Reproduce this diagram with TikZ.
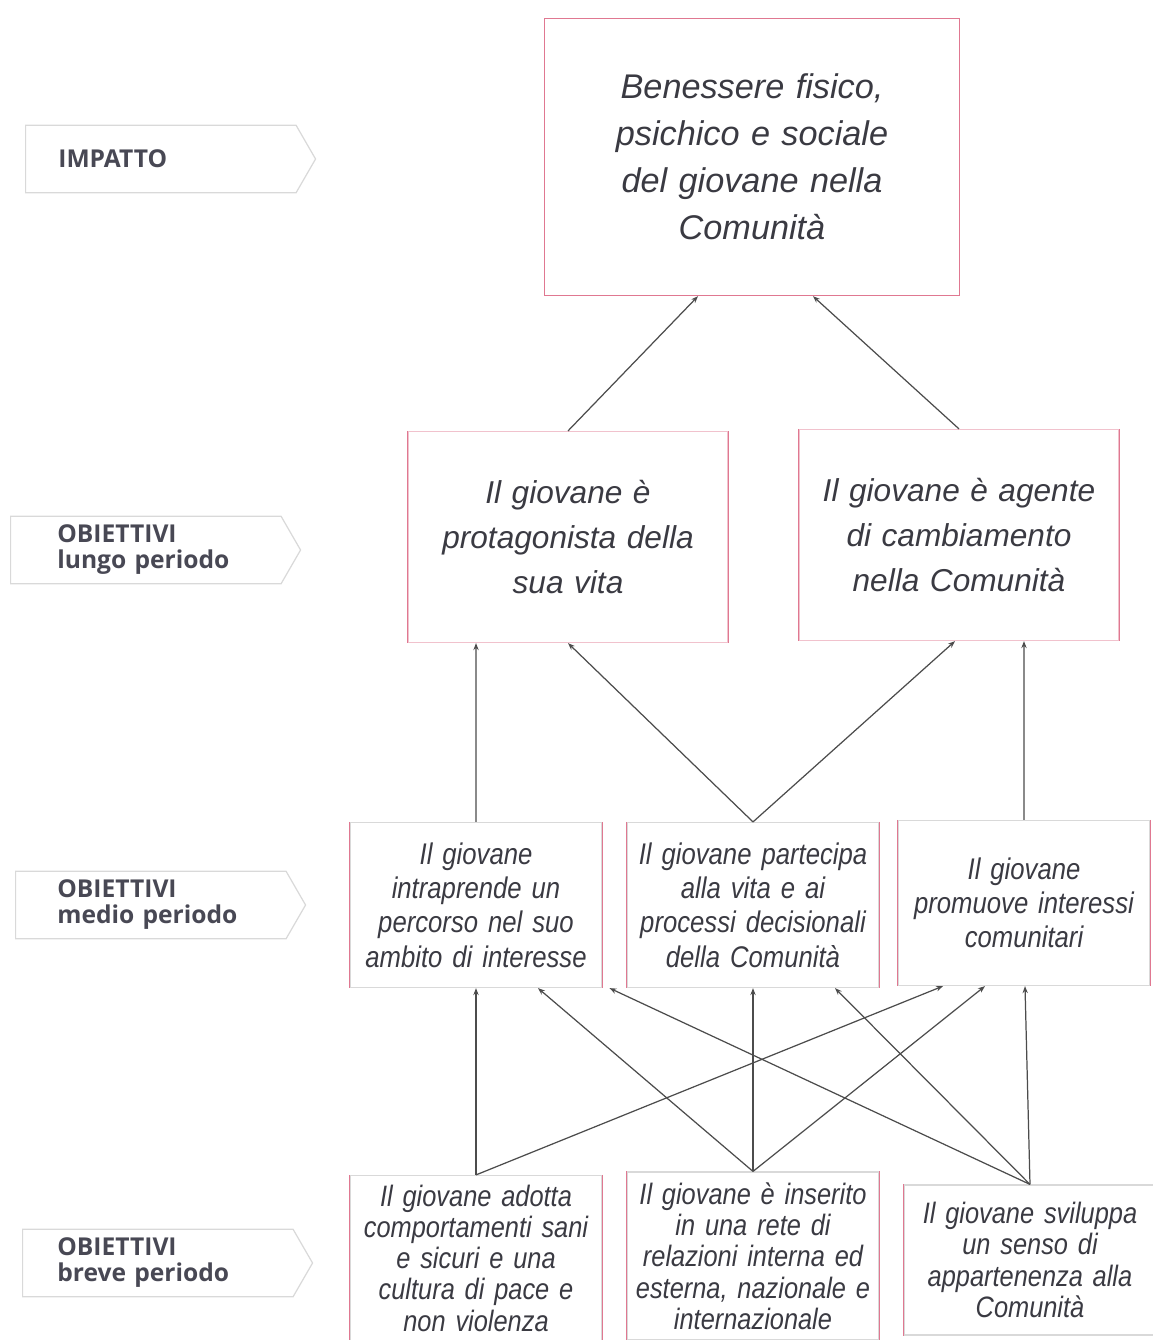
\documentclass[tikz,border=0pt]{standalone}
\usepackage{fontspec}
\setmainfont{Liberation Sans}
\newfontfamily\narrowfont[FakeStretch=0.86]{Liberation Sans}
\newfontfamily\labelfont{Open Sans}
\usetikzlibrary{arrows.meta,shapes.symbols}
\definecolor{boxred}{RGB}{224,120,145}
\definecolor{testo}{RGB}{58,58,66}
\definecolor{etich}{RGB}{72,72,84}
\begin{document}
\begin{tikzpicture}[x=0.02cm, y=-0.02cm,
        impatto/.style={draw=boxred, line width=0.8pt, minimum width=8.3cm, minimum height=5.54cm,
            text width=7cm, align=center, text=testo, font=\fontsize{19.5}{26.7}\selectfont\itshape},
        latirossi/.style={append after command={
            (\tikzlastnode.north west) edge[draw=boxred, line width=0.8pt] (\tikzlastnode.south west)
            (\tikzlastnode.north east) edge[draw=boxred, line width=0.8pt] (\tikzlastnode.south east)}},
        lungo/.style={draw=boxred!45, line width=0.7pt, minimum width=6.4cm, minimum height=4.22cm,
            text width=6cm, align=center, text=testo, font=\fontsize{18}{25.6}\selectfont\itshape, latirossi},
        medio/.style={draw=black!15, line width=0.7pt, minimum width=5cm, minimum height=3.3cm,
            text width=4.8cm, align=center, text=testo, font=\narrowfont\fontsize{17}{19.5}\selectfont\itshape, latirossi},
        breve/.style={draw=black!15, line width=0.7pt, minimum width=5cm, minimum height=3.3cm,
            text width=4.8cm, align=center, text=testo, font=\narrowfont\fontsize{16.8}{17.8}\selectfont\itshape, latirossi},
        livello/.style={shape=signal, signal to=east, signal pointer angle=120, draw=black!15, line width=0.7pt,
            minimum width=5.8cm, minimum height=1.35cm, text width=3.9cm, align=left, anchor=west,
            text=etich, font=\labelfont\bfseries\fontsize{14}{14.8}\selectfont},
        freccia/.style={-{Stealth[length=4pt,width=3pt]}, draw=black!70, line width=0.7pt},
    ]
    \useasboundingbox (0,0) rectangle (1153,1340);

    \node[livello, text width=4.1cm] (l0) at (25,159) {IMPATTO};
    \node[livello, text width=3.54cm] (l1) at (10,550) {OBIETTIVI\\ lungo periodo};
    \node[livello, text width=3.74cm] (l2) at (15,905) {OBIETTIVI\\ medio periodo};
    \node[livello, text width=4.02cm] (l3) at (22,1263) {OBIETTIVI\\ breve periodo};

    \node[impatto] (imp) at (752,157) {Benessere fisico,\\ psichico e sociale\\ del giovane nella\\ Comunità};

    \node[lungo] (lp) at (568,537) {Il giovane è\\ protagonista della\\ sua vita};
    \node[lungo] (la) at (959,535) {Il giovane è agente\\ di cambiamento\\ nella Comunità};

    \node[medio] (mi) at (476,905) {Il giovane\\ intraprende un\\ percorso nel suo\\ ambito di interesse};
    \node[medio] (mp) at (753,905) {Il giovane partecipa\\ alla vita e ai\\ processi decisionali\\ della Comunità};
    \node[medio, minimum width=4.9cm] (mc) at (1024,903) {Il giovane\\ promuove interessi\\ comunitari};

    \node[breve] (ba) at (476,1258) {Il giovane adotta\\ comportamenti sani\\ e sicuri e una\\ cultura di pace e\\ non violenza};
    \node[breve, minimum height=3.36cm] (bi) at (753,1256) {Il giovane è inserito\\ in una rete di\\ relazioni interna ed\\ esterna, nazionale e\\ internazionale};
    \node[breve, minimum width=4.9cm, minimum height=3cm] (bs) at (1030,1260) {Il giovane sviluppa\\ un senso di\\ appartenenza alla\\ Comunità};

    \draw[freccia] (lp.north) -- ([xshift=-1.08cm]imp.south);
    \draw[freccia] (la.north) -- ([xshift=1.22cm]imp.south);

    \draw[freccia] (mi.north) -- ([xshift=-1.84cm]lp.south);
    \draw[freccia] (mp.north) -- (lp.south);
    \draw[freccia] (mp.north) -- ([xshift=-0.08cm]la.south);
    \draw[freccia] (mc.north) -- ([xshift=1.3cm]la.south);

    \draw[freccia] (ba.north) -- (mi.south);
    \draw[freccia] (ba.north) -- ([xshift=-1.62cm]mc.south);
    \draw[freccia] (bi.north) -- ([xshift=1.24cm]mi.south);
    \draw[freccia] (bi.north) -- (mp.south);
    \draw[freccia] (bi.north) -- ([xshift=-0.78cm]mc.south);
    \draw[freccia] (bs.north) -- ([xshift=0.14cm]mi.south east);
    \draw[freccia] (bs.north) -- ([xshift=1.64cm]mp.south);
    \draw[freccia] (bs.north) -- ([xshift=0.02cm]mc.south);

\end{tikzpicture}
\end{document}
